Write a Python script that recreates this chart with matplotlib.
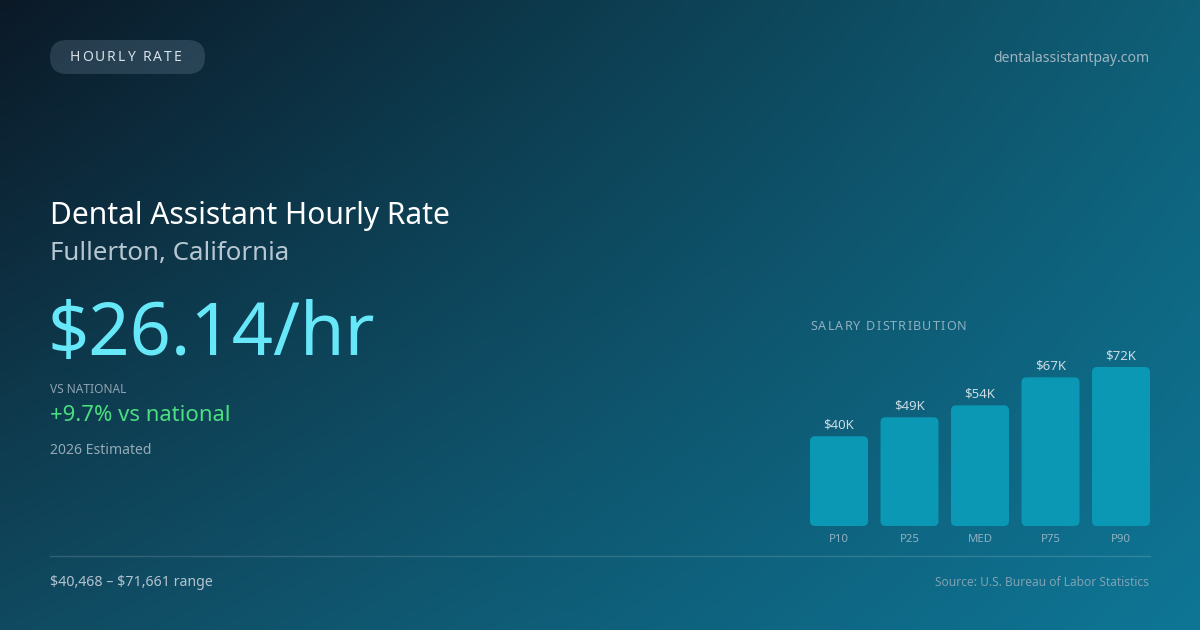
import numpy as np
import matplotlib
matplotlib.use("Agg")
import matplotlib.pyplot as plt
from matplotlib.patches import FancyBboxPatch
from matplotlib.lines import Line2D

# ---- data ----
categories = ["P10", "P25", "MED", "P75", "P90"]
salaries = [40468, 49000, 54371, 67000, 71661]
value_labels = ["$40K", "$49K", "$54K", "$67K", "$72K"]
badge = "HOURLY RATE"
site = "dentalassistantpay.com"
title = "Dental Assistant Hourly Rate"
subtitle = "Fullerton, California"
headline = "$26.14/hr"
vs_label = "VS NATIONAL"
vs_value = "+9.7% vs national"
estimate_note = "2026 Estimated"
range_text = "$40,468 \u2013 $71,661 range"
source_text = "Source: U.S. Bureau of Labor Statistics"
dist_title = "SALARY DISTRIBUTION"

W, H = 1200, 630
plt.rcParams['font.family'] = ['Noto Sans', 'DejaVu Sans']
plt.rcParams['text.parse_math'] = False
fig = plt.figure(figsize=(W / 100, H / 100), dpi=100)

# background gradient (bilinear between corner colours)
bg = fig.add_axes([0, 0, 1, 1])
bg.set_xlim(0, W)
bg.set_ylim(H, 0)
bg.axis('off')
def hx(c):
    return np.array([int(c[i:i + 2], 16) for i in (1, 3, 5)]) / 255.0
tl, tr, bl, br = hx("#0b1927"), hx("#0f5f77"), hx("#104a60"), hx("#0e7696")
u = np.linspace(0, 1, 300)[None, :, None]
v = np.linspace(0, 1, 160)[:, None, None]
img = (1 - v) * ((1 - u) * tl + u * tr) + v * ((1 - u) * bl + u * br)
bg.imshow(img, extent=(0, W, H, 0), aspect='auto', interpolation='bilinear', zorder=0)

renderer = fig.canvas.get_renderer()

def spaced_text(ax, x, y, s, spacing, **kw):
    """Draw letter-spaced text, char by char, starting at pixel x."""
    cx = x
    for ch in s:
        t = ax.text(cx, y, ch, **kw)
        bb = t.get_window_extent(renderer=renderer)
        cx += bb.width + spacing
    return cx

# badge pill
pill = FancyBboxPatch((50 + 17, 57), 155 - 34, 0.001,
                      boxstyle="round,pad=17,rounding_size=17",
                      facecolor=(0.75, 0.85, 0.95, 0.16),
                      edgecolor='none', zorder=1)
bg.add_patch(pill)
spaced_text(bg, 70, 57.5, badge, 1.9, fontsize=10, color="#d6e2ea",
            va='center', ha='left', zorder=2)

bg.text(1149, 58, site, fontsize=10.1, color="#9fb4c2", ha='right', va='center')

bg.text(50, 224, title, fontsize=21.6, color="white", ha='left', va='baseline')
bg.text(50, 260, subtitle, fontsize=18.6, color="#b7c7d2", ha='left', va='baseline')
bg.text(48, 355, headline, fontsize=52, color="#67e8f9", ha='left', va='baseline')
bg.text(50, 393, vs_label, fontsize=8.6, color="#8ea3b1", ha='left', va='baseline')
bg.text(50, 421, vs_value, fontsize=15.9, color="#4ade80", ha='left', va='baseline')
bg.text(50, 454, estimate_note, fontsize=10.1, color="#94a9b6", ha='left', va='baseline')

bg.add_line(Line2D([50, 1150], [556, 556], color=(1, 1, 1, 0.15), lw=1))
bg.text(50, 586, range_text, fontsize=10.2, color="#b3c3ce", ha='left', va='baseline')
bg.text(1149, 586, source_text, fontsize=8.6, color="#7fa2b3", ha='right', va='baseline')

spaced_text(bg, 810, 330, dist_title, 1.2, fontsize=9, color="#8fb0c1",
            ha='left', va='baseline')

# bar chart axes: x 810..1150 px, bottom at 526 px, 159 px for max value
n = len(categories)
unit_px = 70.5
bar_w = 58 / unit_px
half = bar_w / 2
x_left_px, x_right_px = 810, 1150
ax_bottom_px, ymax_px = 526, 159
ymax = max(salaries)
ax = fig.add_axes([x_left_px / W, (H - ax_bottom_px) / H,
                   (x_right_px - x_left_px) / W, ymax_px / H])
ax.set_xlim(-half, n - 1 + half)
ax.set_ylim(0, ymax)
ax.axis('off')
ax.patch.set_alpha(0)

bars = ax.bar(range(n), salaries, width=bar_w, color="#0a98b5")
x_per_px = (n - 1 + bar_w) / (x_right_px - x_left_px)
y_per_px = ymax / ymax_px
r_px = 5
for b in bars:
    x0, y0, w, h = b.get_x(), b.get_y(), b.get_width(), b.get_height()
    b.set_visible(False)
    p = FancyBboxPatch((x0, y0), w, h,
                       boxstyle=f"round,pad=0,rounding_size={r_px * x_per_px}",
                       mutation_aspect=y_per_px / x_per_px,
                       facecolor="#0a98b5", edgecolor='none', clip_on=False)
    ax.add_patch(p)

for i, (val, lab) in enumerate(zip(salaries, value_labels)):
    ax.text(i, val + 8 * y_per_px, lab, ha='center', va='baseline',
            fontsize=9.5, color="#cadbe3", clip_on=False)
    ax.text(i, -13 * y_per_px, categories[i], ha='center', va='center',
            fontsize=8.2, color="#8fb2c2", clip_on=False)

fig.savefig("out.png", dpi=100)
